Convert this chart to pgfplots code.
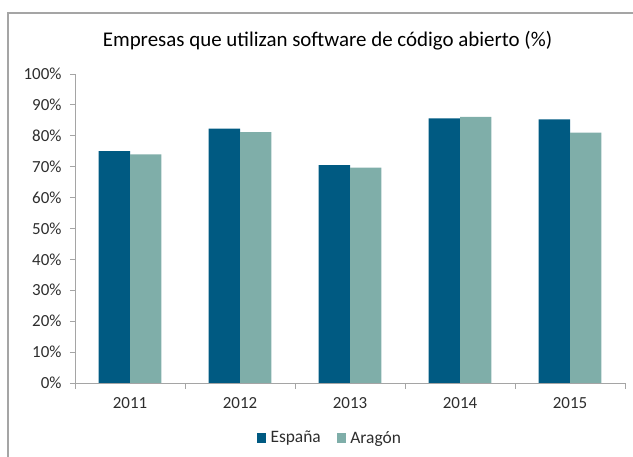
\documentclass[border=0pt]{standalone}
\usepackage{pgfplots}
\pgfplotsset{compat=1.18}
\usepackage{fontspec}
\setmainfont{Carlito}
\definecolor{espana}{RGB}{0,90,130}
\definecolor{aragon}{RGB}{127,174,169}
\definecolor{axgray}{RGB}{165,165,165}
\definecolor{txt}{RGB}{45,45,45}
\begin{document}
\begin{tikzpicture}[x=1bp,y=1bp]
\useasboundingbox (0,0) rectangle (633,457);
\draw[axgray, line width=1.3bp] (8,0) -- (8,444) -- (634,444);
\node[font=\fontsize{21}{24}\selectfont, text=black] at (327.5,416) {Empresas que utilizan software de código abierto (\%)};
\begin{axis}[
  at={(75bp,74bp)}, anchor=south west,
  scale only axis, width=550bp, height=309bp,
  ybar=0pt, bar width=31.4bp,
  xmin=-0.5, xmax=4.5, ymin=0, ymax=100,
  axis x line*=bottom, axis y line*=left,
  axis line style={axgray, line width=0.8bp},
  xtick={0,1,2,3,4}, xticklabels={2011,2012,2013,2014,2015},
  minor xtick={-0.5,0.5,1.5,2.5,3.5,4.5},
  major x tick style={draw=none},
  minor x tick style={axgray, line width=0.8bp},
  minor tick length=6bp,
  ytick={0,10,...,100},
  yticklabel={\pgfmathprintnumber{\tick}\%},
  y tick style={axgray, line width=0.8bp},
  major tick length=5bp,
  tick align=outside,
  /pgf/number format/assume math mode=true,
  ticklabel style={font=\fontsize{17}{19}\selectfont, text=txt},
  xticklabel style={yshift=-6bp},
  yticklabel style={xshift=-5bp},
  legend style={at={(0.4636,-0.1775)}, anchor=center, draw=none, fill=none,
    legend columns=2, font=\fontsize{17.5}{20}\selectfont, text=txt,
    /tikz/every even column/.append style={column sep=14bp},
    /tikz/every odd column/.append style={column sep=0bp}},
  legend image code/.code={\fill[#1] (0bp,-4.7bp) rectangle (9.3bp,4.7bp); \path (11.5bp,0bp);},
]
\addplot[fill=espana, draw=none] coordinates {(0,75.0) (1,82.3) (2,70.5) (3,85.6) (4,85.3)};
\addplot[fill=aragon, draw=none] coordinates {(0,74.0) (1,81.2) (2,69.7) (3,86.1) (4,81.0)};
\legend{España, Aragón}
\end{axis}
\end{tikzpicture}
\end{document}
